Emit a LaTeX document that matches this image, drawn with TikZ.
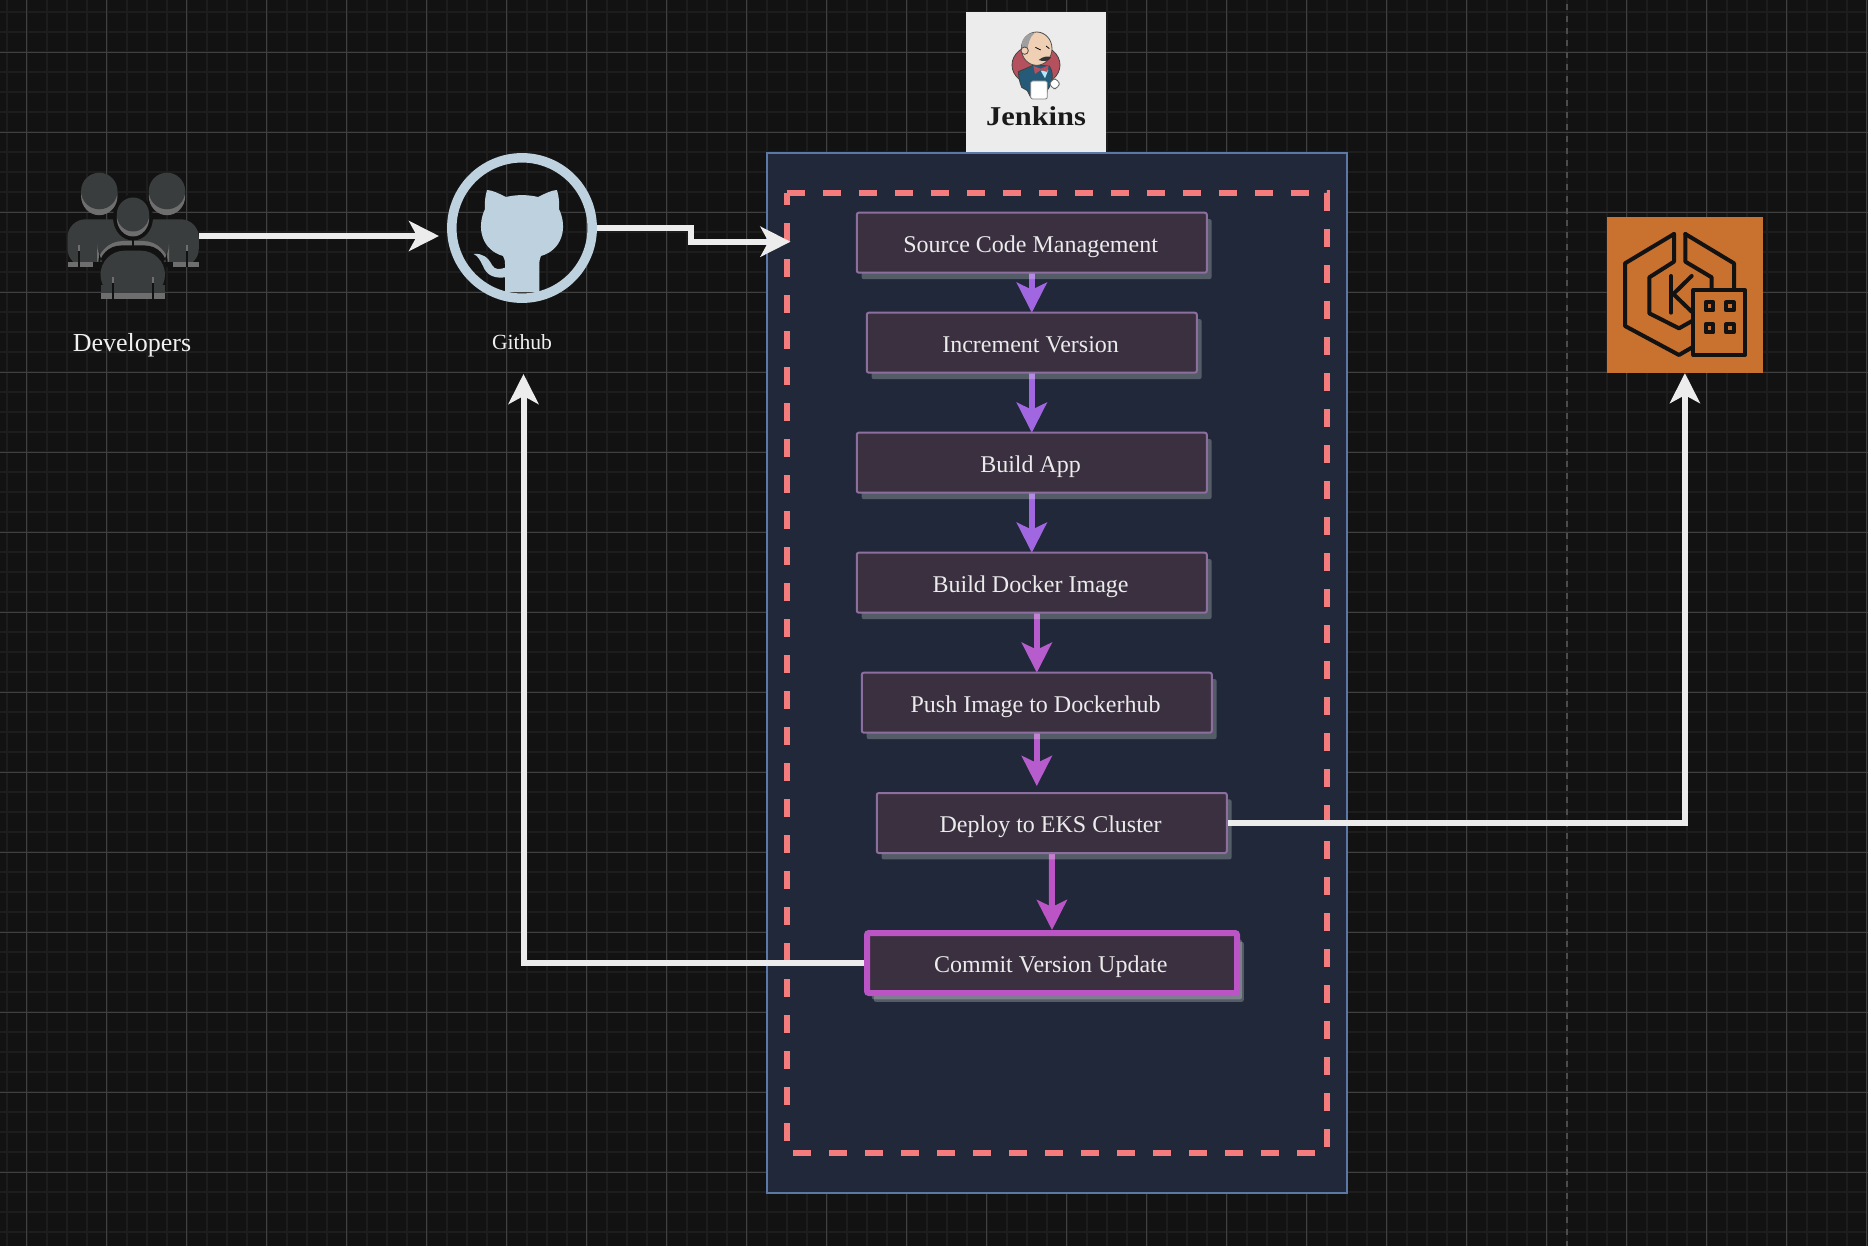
\documentclass[tikz,border=0pt]{standalone}
\usepackage{fontspec}
\setmainfont{Liberation Serif}
\usetikzlibrary{arrows.meta,shadows,calc}
\definecolor{bgc}{HTML}{121212}
\definecolor{minorc}{HTML}{1D1D1D}
\definecolor{majorc}{HTML}{404040}
\definecolor{dashc}{HTML}{4C4C4C}
\definecolor{panelc}{HTML}{20283A}
\definecolor{panelb}{HTML}{5C78A6}
\definecolor{redc}{HTML}{F47C7C}
\definecolor{boxc}{HTML}{3A3040}
\definecolor{boxb}{HTML}{8C6F9E}
\definecolor{arra}{HTML}{A067E0}
\definecolor{arrb}{HTML}{B65CCD}
\definecolor{arrc}{HTML}{BB55C5}
\definecolor{whc}{HTML}{ECECEC}
\definecolor{ghc}{HTML}{BDD1DF}
\definecolor{eksc}{HTML}{C9712E}
\definecolor{devd}{HTML}{3A3D3D}
\definecolor{devl}{HTML}{6E6E6E}
\definecolor{shadc}{HTML}{EDF8F0}
\definecolor{jkred}{HTML}{B5515F}
\definecolor{jkblue}{HTML}{255A78}
\definecolor{jkskin}{HTML}{F0D0B5}
\pgfdeclarelayer{bgl}
\pgfdeclarelayer{conn}
\pgfsetlayers{bgl,conn,main}
\tikzset{
  stepbox/.style={rectangle,draw=boxb,fill=boxc,line width=1pt,rounded corners=1pt,
    outer sep=0pt,inner sep=0pt,minimum height=30pt,text=white!92!black,
    font=\fontsize{12}{14}\selectfont,text height=10.2pt,text depth=.5pt,
    execute at begin node={\hspace*{-1.2pt}},
    general shadow={shadow xshift=2.4pt,shadow yshift=-3.2pt,fill=shadc,fill opacity=.25,draw=none}},
  lastbox/.style={stepbox,draw=arrc,line width=3pt,
    general shadow={shadow xshift=3.4pt,shadow yshift=-4.4pt,fill=shadc,fill opacity=.25,draw=none}},
  flowarrow/.style={line width=3pt,-{Stealth[length=15pt,width=15pt,inset=3.5pt]}},
  whitearrow/.style={draw=whc,line width=3pt,-{Stealth[length=15pt,width=15pt,inset=4pt]}},
  holder/.style={rectangle,inner sep=0pt,outer sep=0pt},
  caption/.style={text=white!94!black,inner sep=0pt},
  iconline/.style={draw=bgc,line width=2pt,line join=round,line cap=round,fill=none}
}
\begin{document}
\begin{tikzpicture}[x=.5pt,y=-.5pt]
\useasboundingbox (0,0) rectangle (1868,1246);
\begin{pgfonlayer}{bgl}
  \fill[bgc] (0,0) rectangle (1868,1246);
  \foreach \i in {0,...,93} \draw[minorc,line width=1pt] ({6.6+20*\i},0) -- ++(0,1246);
  \foreach \i in {0,...,62} \draw[minorc,line width=1pt] (0,{12+20*\i}) -- ++(1868,0);
  \foreach \i in {0,...,23} \draw[majorc,line width=.5pt] ({26.67+80*\i},0) -- ++(0,1246);
  \foreach \i in {0,...,15} \draw[majorc,line width=.5pt] (0,{52.3+80*\i}) -- ++(1868,0);
  \draw[dashc,line width=1pt,dash pattern=on 3pt off 3pt] (1567,-7.5) -- (1567,1250);
  \node[holder,draw=panelb,fill=panelc,line width=1pt,minimum width=290pt,minimum height=520pt] (panel) at (1057,673) {};
  \draw[redc,line width=3pt,dash pattern=on 9pt off 9pt,line join=miter]
     (787,193) -- (1327,193) -- (1327,1153) -- (787,1153) -- cycle;
\end{pgfonlayer}

% Jenkins tile
\node[holder,fill=whc,minimum width=70pt,minimum height=70pt] (jk) at (1036,82) {};
\begin{scope}[shift={(940,0)},scale=.33333]
  \filldraw[draw=black!75,fill=jkred,line width=.4pt] (288,195) ellipse (72 and 60);
  \filldraw[draw=black!75,fill=jkblue,line width=.4pt]
     (235,215) -- (282,195) -- (328,198) .. controls (345,225) and (335,255) .. (322,270)
     -- (318,292) -- (272,292) -- (262,272) -- (245,262) .. controls (238,245) and (236,230) .. (235,215) -- cycle;
  \fill[cyan!30!white] (302,212) -- (325,210) -- (315,235) -- cycle;
  \filldraw[draw=black!70,fill=jkskin,line width=.4pt] (290,146) ellipse (46 and 50);
  \fill[gray!75!white] (246,150) .. controls (238,118) and (262,98) .. (285,98) .. controls (268,110) and (264,135) .. (262,150) -- cycle;
  \filldraw[draw=black!70,fill=jkskin,line width=.4pt] (254,152) circle (11);
  \draw[black,line width=.4pt] (286,142) -- (302,150);
  \draw[black,line width=.4pt] (318,138) -- (328,146);
  \fill[black!80] (296,180) .. controls (310,168) and (325,168) .. (333,172) .. controls (328,184) and (310,186) .. (296,180) -- cycle;
  \fill[jkred] (280,198) -- (302,206) -- (326,196) -- (322,216) -- (302,210) -- (285,222) -- cycle;
  \filldraw[draw=gray,fill=white,line width=.4pt,rounded corners=1pt] (272,243) rectangle (322,297);
  \filldraw[draw=black!60,fill=white,line width=.4pt,rounded corners=3pt] (330,237) rectangle (358,266);
\end{scope}
\node[anchor=base,inner sep=0pt,text=black!90,font=\fontsize{13.6}{15}\selectfont\bfseries,xscale=1.12,transform shape] (jklabel) at (1036,125.5) {Jenkins};

% Developers
\node[holder,minimum width=66pt,minimum height=63pt] (dev) at (133,236) {};
\fill[devl] (99.3,196) ellipse (18.2 and 19.2);
\fill[devd] (99.3,191) ellipse (18.2 and 18.3);
\fill[devl] (167,196) ellipse (18.2 and 19.2);
\fill[devd] (167,191) ellipse (18.2 and 18.3);
\fill[devd,rounded corners=9pt] (67.5,266.7) -- (67.5,219.3) -- (198.8,219.3) -- (198.8,266.7) -- cycle;
\fill[devl] (67.5,261.7) rectangle (198.8,266.7);
\fill[bgc] (78.4,262) rectangle (80.4,266.7);
\fill[bgc] (185.6,262) rectangle (187.6,266.7);
\fill[devl] (78.4,245) rectangle (80.4,251);
\fill[devl] (185.6,245) rectangle (187.6,251);
\fill[bgc] (78.4,251) rectangle (80.4,262);
\fill[bgc] (185.6,251) rectangle (187.6,262);
\fill[bgc] (133,217.5) ellipse (20 and 23);
\fill[devl,rounded corners=13pt] (97,270) -- (97,241) -- (169,241) -- (169,270) -- cycle;
\fill[bgc,rounded corners=11pt] (99,272) -- (99,245.5) -- (167,245.5) -- (167,272) -- cycle;
\fill[bgc] (93,262) rectangle (173,267);
\fill[bgc] (132,236) rectangle (134,246);
\fill[devl] (133,218) ellipse (16.2 and 18.5);
\fill[devd] (133,214.5) ellipse (16.2 and 17);
\fill[devd,rounded corners=12pt] (100.5,298.7) -- (100.5,250.7) -- (165,250.7) -- (165,298.7) -- cycle;
\fill[devd] (100.5,285) rectangle (165,298.7);
\fill[devl] (100.5,293.3) rectangle (165,298.7);
\fill[devl] (111.7,277) rectangle (113.7,283);
\fill[devl] (151.9,277) rectangle (153.9,283);
\fill[bgc] (111.7,283) rectangle (113.7,298.7);
\fill[bgc] (151.9,283) rectangle (153.9,298.7);
\node[caption,font=\fontsize{13}{15}\selectfont,anchor=base] (devlabel) at (132,351) {Developers};

% Github
\node[holder,circle,minimum size=75pt] (gh) at (522,228) {};
\draw[ghc,line width=4.75pt] (gh.center) circle[radius=70.2];
\fill[ghc] (487,190) .. controls (492,190) and (500,194) .. (506,197) .. controls (516,194.5) and (528,194.5) .. (538,197)
   .. controls (544,194) and (552,190) .. (557,190) .. controls (559,197) and (559.5,203) .. (559,209)
   .. controls (568,228) and (562,250) .. (541,256) .. controls (540,258) and (539.4,260) .. (539.4,264)
   -- (539.4,292) -- (505,292) -- (505,264) .. controls (505,260) and (504,258) .. (503,256)
   .. controls (482,250) and (476,228) .. (485,209) .. controls (484.5,203) and (485,197) .. (487,190) -- cycle;
\fill[ghc] (473.6,254) .. controls (482,253) and (488,257) .. (492,265)
   .. controls (495,270) and (499,270) .. (507,267) -- (507,277)
   .. controls (495,279) and (487,276) .. (483,266) .. controls (480,260) and (478,256) .. (473.6,254) -- cycle;
\node[caption,font=\fontsize{10.8}{13}\selectfont,anchor=base] (ghlabel) at (522,350) {Github};

% EKS
\node[holder,fill=eksc,minimum width=78.2pt,minimum height=78.2pt] (eks) at (1684.9,294.9) {};
\begin{scope}[shift={(1580,200)},scale=.33333]
  \draw[iconline] (282,102) -- (135,190) -- (135,378) -- (297,465) -- (340,440);
  \draw[iconline] (282,102) -- (282,185) -- (208,232) -- (208,340) -- (297,385) -- (338,362);
  \draw[iconline] (316,102) -- (462,190) -- (462,268);
  \draw[iconline] (316,102) -- (316,185) -- (395,232) -- (395,268);
  \draw[iconline] (273,228) -- (273,338);
  \draw[iconline] (335,228) -- (280,282) -- (335,335);
  \draw[iconline,fill=eksc] (340,270) rectangle (495,465);
  \foreach \a/\b in {372/302,433/302,372/368,433/368}
    \draw[iconline,line width=2pt,fill=eksc] (\a+5,\b+5) rectangle (\a+28,\b+29);
\end{scope}

% Pipeline steps
\node[stepbox,minimum width=175pt] (src) at (1031.8,242.7) {Source Code Management};
\node[stepbox,minimum width=165pt,execute at begin node={}] (inc) at (1031.8,342.7) {Increment Version};
\node[stepbox,minimum width=175pt] (bld) at (1031.8,462.7) {Build App};
\node[stepbox,minimum width=175pt] (img) at (1031.8,582.7) {Build Docker Image};
\node[stepbox,minimum width=175pt] (psh) at (1036.8,702.7) {Push Image to Dockerhub};
\node[stepbox,minimum width=175pt] (dpl) at (1051.8,823) {Deploy to EKS Cluster};
\node[lastbox,minimum width=185pt] (cmt) at (1052,963) {Commit Version Update};

\coordinate (pipein) at (790.5,241.7);
\coordinate (bend) at (691,235);
\coordinate (ghin) at (523.5,374);

\begin{pgfonlayer}{conn}
  \draw[flowarrow,arra] (src.south) -- (inc.north);
  \draw[flowarrow,arra] (inc.south) -- (bld.north);
  \draw[flowarrow,arra] (bld.south) -- (img.north);
  \draw[flowarrow,arrb] (img.south -| psh.north) -- (psh.north);
  \draw[flowarrow,arrb,shorten >=3.5pt] (psh.south) -- (psh.south |- dpl.north);
  \draw[flowarrow,arrc,shorten >=1.5pt] (dpl.south) -- (cmt.north);
  \draw[whitearrow,shorten >=4pt] (dev.east) -- (dev.east -| gh.west);
  \draw[whitearrow] (gh.east) -| (bend) |- (pipein);
  \draw[whitearrow] (dpl.east) -| (eks.south);
  \draw[whitearrow] (cmt.west) -| (ghin);
\end{pgfonlayer}
\end{tikzpicture}
\end{document}
